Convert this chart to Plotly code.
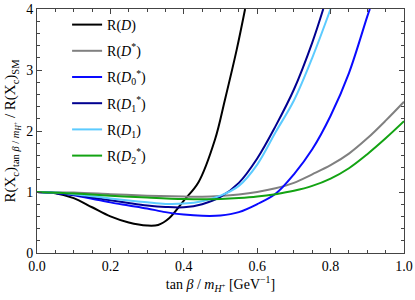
import plotly.graph_objects as go

# tan(beta)/m_H+ grid [GeV^-1] and ratios
x_D = [0, 0.05, 0.1, 0.15, 0.2, 0.25, 0.3, 0.33, 0.36, 0.4, 0.44, 0.485, 0.512, 0.544, 0.567]
y_D = [1, 0.98, 0.90, 0.75, 0.60, 0.50, 0.45, 0.46, 0.57, 0.86, 1.16, 1.86, 2.51, 3.33, 4.0]

x_Dst = [0, 0.1, 0.2, 0.3, 0.4, 0.45, 0.5, 0.55, 0.6, 0.65, 0.7, 0.75, 0.8, 0.85, 0.9, 0.95, 1.0]
y_Dst = [1, 0.99, 0.965, 0.94, 0.925, 0.922, 0.935, 0.96, 1.0, 1.06, 1.15, 1.29, 1.44, 1.63, 1.88, 2.17, 2.48]

x_D0s = [0, 0.05, 0.1, 0.15, 0.2, 0.25, 0.3, 0.35, 0.4, 0.45, 0.5, 0.55, 0.6, 0.65, 0.7, 0.75, 0.8, 0.85, 0.9, 0.907]
y_D0s = [1, 0.985, 0.945, 0.89, 0.83, 0.78, 0.73, 0.67, 0.63, 0.61, 0.615, 0.67, 0.80, 0.97, 1.29, 1.70, 2.25, 2.95, 3.88, 4.0]

x_D1s = [0, 0.05, 0.1, 0.15, 0.2, 0.25, 0.3, 0.35, 0.4, 0.45, 0.5, 0.55, 0.6, 0.65, 0.7, 0.75, 0.78]
y_D1s = [1, 0.985, 0.955, 0.91, 0.865, 0.82, 0.78, 0.755, 0.75, 0.80, 0.92, 1.15, 1.55, 2.08, 2.68, 3.45, 4.0]

x_D1 = [0, 0.05, 0.1, 0.15, 0.2, 0.25, 0.3, 0.35, 0.4, 0.45, 0.5, 0.55, 0.6, 0.65, 0.7, 0.75, 0.8]
y_D1 = [1, 0.99, 0.965, 0.93, 0.895, 0.86, 0.83, 0.805, 0.81, 0.85, 0.94, 1.10, 1.45, 1.98, 2.5, 3.2, 4.0]

x_D2s = [0, 0.1, 0.2, 0.3, 0.4, 0.45, 0.5, 0.55, 0.6, 0.65, 0.7, 0.75, 0.8, 0.85, 0.9, 0.95, 1.0]
y_D2s = [1, 0.975, 0.94, 0.91, 0.885, 0.88, 0.885, 0.90, 0.925, 0.965, 1.02, 1.10, 1.22, 1.39, 1.62, 1.88, 2.16]

series = [
    ("R(<i>D</i>)", x_D, y_D, "#000000"),
    ("R(<i>D</i><sup>*</sup>)", x_Dst, y_Dst, "#808080"),
    ("R(<i>D</i><sub>0</sub><sup>*</sup>)", x_D0s, y_D0s, "#0a0aff"),
    ("R(<i>D</i><sub>1</sub><sup>*</sup>)", x_D1s, y_D1s, "#000090"),
    ("R(<i>D</i><sub>1</sub>)", x_D1, y_D1, "#5ccbff"),
    ("R(<i>D</i><sub>2</sub><sup>*</sup>)", x_D2s, y_D2s, "#13a313"),
]

fig = go.Figure()
for i, (name, xs, ys, col) in enumerate(series):
    fig.add_trace(go.Scatter(x=xs, y=ys, mode="lines", name=name,
                             legendgroup=str(i),
                             line=dict(color=col, width=2, shape="spline", smoothing=1.0)))

font = "Liberation Serif"
fig.update_layout(
    width=415, height=300,
    margin=dict(l=37, r=11, t=9, b=47),
    paper_bgcolor="white", plot_bgcolor="white",
    font=dict(family=font, size=14, color="black"),
    showlegend=True,
    legend=dict(x=0.082, y=1.0, xanchor="left", yanchor="top",
                bgcolor="rgba(0,0,0,0)", font=dict(size=14, family=font),
                tracegroupgap=5, itemwidth=30),
)
fig.update_xaxes(range=[0, 1.0], dtick=0.2, tickformat=".1f", ticks="inside", ticklen=5,
                 automargin=False,
                 tickcolor="#444", showgrid=False, zeroline=False, showline=True,
                 linecolor="#444", linewidth=1, mirror="ticks",
                 minor=dict(dtick=0.05, ticks="inside", ticklen=3, tickcolor="#444"),
                 title=dict(text="tan <i>β</i> / <i>m</i><sub><i>H</i><sup>+</sup></sub> [GeV<sup>−1</sup>]",
                            standoff=4, font=dict(size=14)),
                 tickfont=dict(size=14))
fig.update_yaxes(range=[0, 4], dtick=1, ticks="inside", ticklen=5, tickcolor="#444",
                 automargin=False,
                 showgrid=False, zeroline=False, showline=True, linecolor="#444",
                 linewidth=1, mirror="ticks",
                 minor=dict(dtick=0.2, ticks="inside", ticklen=3, tickcolor="#444"),
                 title=dict(text="R(X<sub>c</sub>)<sub>tan <i>β</i> / <i>m<sub>H<sup>+</sup></sub></i></sub> / R(X<sub>c</sub>)<sub>SM</sub>",
                            standoff=6, font=dict(size=15)),
                 tickfont=dict(size=14))

fig.write_html("out.html", config={"displayModeBar": False},
               post_script="document.body.style.margin='0';document.body.style.overflow='hidden';")
